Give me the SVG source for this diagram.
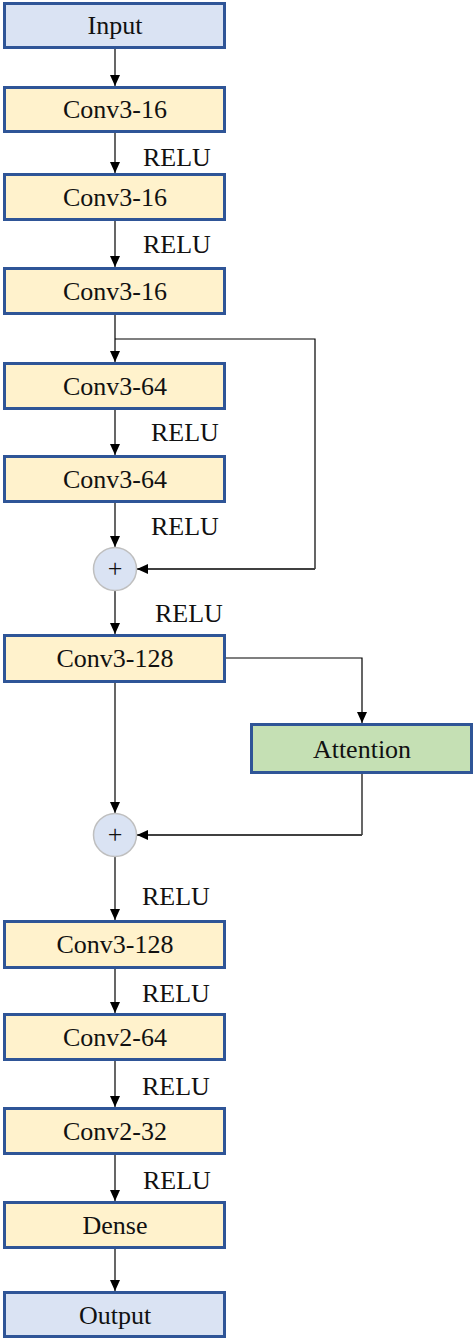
<svg xmlns="http://www.w3.org/2000/svg" width="474" height="1340" viewBox="0 0 474 1340">
<style>
.box{stroke:#2f5597;stroke-width:3}
.io{fill:#dae3f3}
.conv{fill:#fff2cc}
.att{fill:#c5e0b4}
.lbl{font-family:"Liberation Serif","Times New Roman",serif;font-size:26px;fill:#111;text-anchor:middle}
.relu{font-family:"Liberation Serif","Times New Roman",serif;font-size:26px;fill:#111}
.sum{fill:#dae3f3;stroke:#bfbfbf;stroke-width:1.5}
.ln{fill:none;stroke:#000;stroke-width:1.2}
.ln2{fill:none;stroke:#404040;stroke-width:1.8}
</style>
<defs>
<marker id="ah" markerUnits="userSpaceOnUse" markerWidth="12" markerHeight="12" viewBox="0 0 12 12" refX="11" refY="6" orient="auto">
<path d="M0,1 L11,6 L0,11 Z" fill="#000"/>
</marker>
</defs>
<g id="connectors">
<line class="ln" x1="115" y1="49" x2="115" y2="86" marker-end="url(#ah)"/>
<line class="ln" x1="115" y1="133" x2="115" y2="173" marker-end="url(#ah)"/>
<line class="ln" x1="115" y1="221" x2="115" y2="267" marker-end="url(#ah)"/>
<line class="ln" x1="115" y1="315" x2="115" y2="362" marker-end="url(#ah)"/>
<polyline class="ln" points="115,339 315,339 315,569"/>
<line class="ln2" x1="315" y1="569" x2="137" y2="569" marker-end="url(#ah)"/>
<line class="ln" x1="115" y1="410" x2="115" y2="455" marker-end="url(#ah)"/>
<line class="ln" x1="115" y1="503" x2="115" y2="547" marker-end="url(#ah)"/>
<line class="ln" x1="115" y1="591" x2="115" y2="634" marker-end="url(#ah)"/>
<polyline class="ln" points="226,658 362,658 362,723" marker-end="url(#ah)"/>
<line class="ln" x1="115" y1="683" x2="115" y2="813" marker-end="url(#ah)"/>
<polyline class="ln" points="362,774 362,835"/>
<line class="ln2" x1="362" y1="835" x2="137" y2="835" marker-end="url(#ah)"/>
<line class="ln" x1="115" y1="857" x2="115" y2="920" marker-end="url(#ah)"/>
<line class="ln" x1="115" y1="969" x2="115" y2="1013" marker-end="url(#ah)"/>
<line class="ln" x1="115" y1="1061" x2="115" y2="1107" marker-end="url(#ah)"/>
<line class="ln" x1="115" y1="1155" x2="115" y2="1201" marker-end="url(#ah)"/>
<line class="ln" x1="115" y1="1249" x2="115" y2="1291" marker-end="url(#ah)"/>
<text class="relu" x="143" y="166">RELU</text>
<text class="relu" x="143" y="253">RELU</text>
<text class="relu" x="151" y="441">RELU</text>
<text class="relu" x="151" y="535">RELU</text>
<text class="relu" x="155" y="622">RELU</text>
<text class="relu" x="142" y="905">RELU</text>
<text class="relu" x="142" y="1002">RELU</text>
<text class="relu" x="142" y="1095">RELU</text>
<text class="relu" x="143" y="1189">RELU</text>
</g>
<g id="input"><rect class="box io" x="4.5" y="3.5" width="220" height="44"/><text class="lbl" x="115" y="34">Input</text></g>
<g id="conv1"><rect class="box conv" x="4.5" y="87.5" width="220" height="44"/><text class="lbl" x="115" y="118">Conv3-16</text></g>
<g id="conv2"><rect class="box conv" x="4.5" y="174.5" width="220" height="45"/><text class="lbl" x="115" y="206">Conv3-16</text></g>
<g id="conv3"><rect class="box conv" x="4.5" y="268.5" width="220" height="45"/><text class="lbl" x="115" y="300">Conv3-16</text></g>
<g id="conv4"><rect class="box conv" x="4.5" y="363.5" width="220" height="45"/><text class="lbl" x="115" y="395">Conv3-64</text></g>
<g id="conv5"><rect class="box conv" x="4.5" y="456.5" width="220" height="45"/><text class="lbl" x="115" y="488">Conv3-64</text></g>
<g id="sum1"><circle class="sum" cx="115" cy="569" r="21.5"/><text class="lbl" x="115" y="577">+</text></g>
<g id="conv6"><rect class="box conv" x="4.5" y="635.5" width="220" height="46"/><text class="lbl" x="115" y="667">Conv3-128</text></g>
<g id="attention"><rect class="box att" x="251.5" y="724.5" width="220" height="48"/><text class="lbl" x="362" y="758">Attention</text></g>
<g id="sum2"><circle class="sum" cx="115" cy="835" r="21.5"/><text class="lbl" x="115" y="843">+</text></g>
<g id="conv7"><rect class="box conv" x="4.5" y="921.5" width="220" height="46"/><text class="lbl" x="115" y="953">Conv3-128</text></g>
<g id="conv8"><rect class="box conv" x="4.5" y="1014.5" width="220" height="45"/><text class="lbl" x="115" y="1046">Conv2-64</text></g>
<g id="conv9"><rect class="box conv" x="4.5" y="1108.5" width="220" height="45"/><text class="lbl" x="115" y="1140">Conv2-32</text></g>
<g id="dense"><rect class="box conv" x="4.5" y="1202.5" width="220" height="45"/><text class="lbl" x="115" y="1234">Dense</text></g>
<g id="output"><rect class="box io" x="4.5" y="1292.5" width="220" height="44"/><text class="lbl" x="115" y="1324">Output</text></g>
</svg>
